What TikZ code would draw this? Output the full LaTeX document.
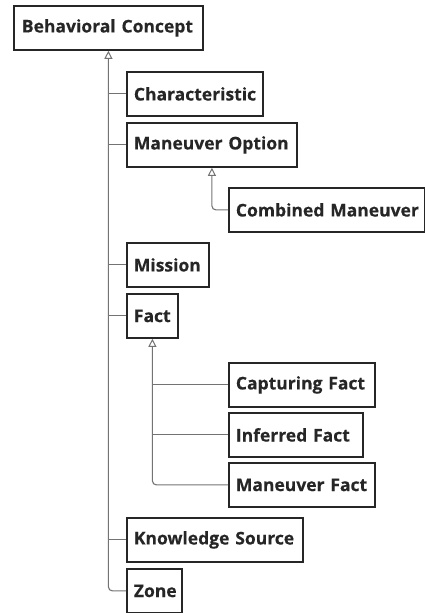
\documentclass[tikz,border=0pt]{standalone}
\usepackage{fontspec}
\setmainfont{Open Sans}[BoldFeatures={FakeBold=0.3}]
\usetikzlibrary{arrows.meta}
\begin{document}
\begin{tikzpicture}[x=1pt,y=-1pt,
  cls/.style={draw=black!85, line width=1.8pt, fill=white, anchor=north west,
    minimum height=44pt, inner xsep=0pt, inner ysep=0pt, align=left,
    font=\fontsize{17.5}{20}\selectfont\bfseries, text=black!85},
  branch/.style={draw=black!55, line width=1.1pt},
  gen/.style={branch, rounded corners=4pt, -{Triangle[open,length=8pt,width=8pt,line width=1pt]}}
]
\useasboundingbox (0,0) rectangle (425,613);
\node[cls, minimum width=189pt, text width=173pt] (bc) at (13,5) {\mbox{Behavioral Concept}};
\node[cls, minimum width=136pt, text width=122pt] (ch) at (126,71) {\mbox{Characteristic}};
\node[cls, minimum width=170pt, text width=156pt] (mo) at (126,122) {\mbox{Maneuver Option}};
\node[cls, minimum width=196pt, text width=182pt] (cm) at (228,187) {\mbox{Combined Maneuver}};
\node[cls, minimum width=82pt, text width=68pt] (mi) at (126,242) {\mbox{Mission}};
\node[cls, minimum width=51pt, text width=37pt] (fa) at (126,293) {\mbox{Fact}};
\node[cls, minimum width=146pt, text width=132pt] (cf) at (228,362) {\mbox{Capturing Fact}};
\node[cls, minimum width=134pt, text width=120pt] (if) at (228,412) {\mbox{Inferred Fact}};
\node[cls, minimum width=146pt, text width=132pt] (mf) at (228,462) {\mbox{Maneuver Fact}};
\node[cls, minimum width=176pt, text width=162pt] (ks) at (126,517) {\mbox{Knowledge Source}};
\node[cls, minimum width=55pt, text width=41pt] (zo) at (126,568) {\mbox{Zone}};
% generalizations
\draw[gen] (zo.west) -| (bc.south);
\foreach \n in {ch,mo,mi,fa,ks} \draw[branch] (\n.west) -- (\n.west -| bc.south);
\draw[gen] (cm.west) -| (mo.south);
\draw[gen] (mf.west) -| (fa.south);
\foreach \n in {cf,if} \draw[branch] (\n.west) -- (\n.west -| fa.south);
\end{tikzpicture}
\end{document}
